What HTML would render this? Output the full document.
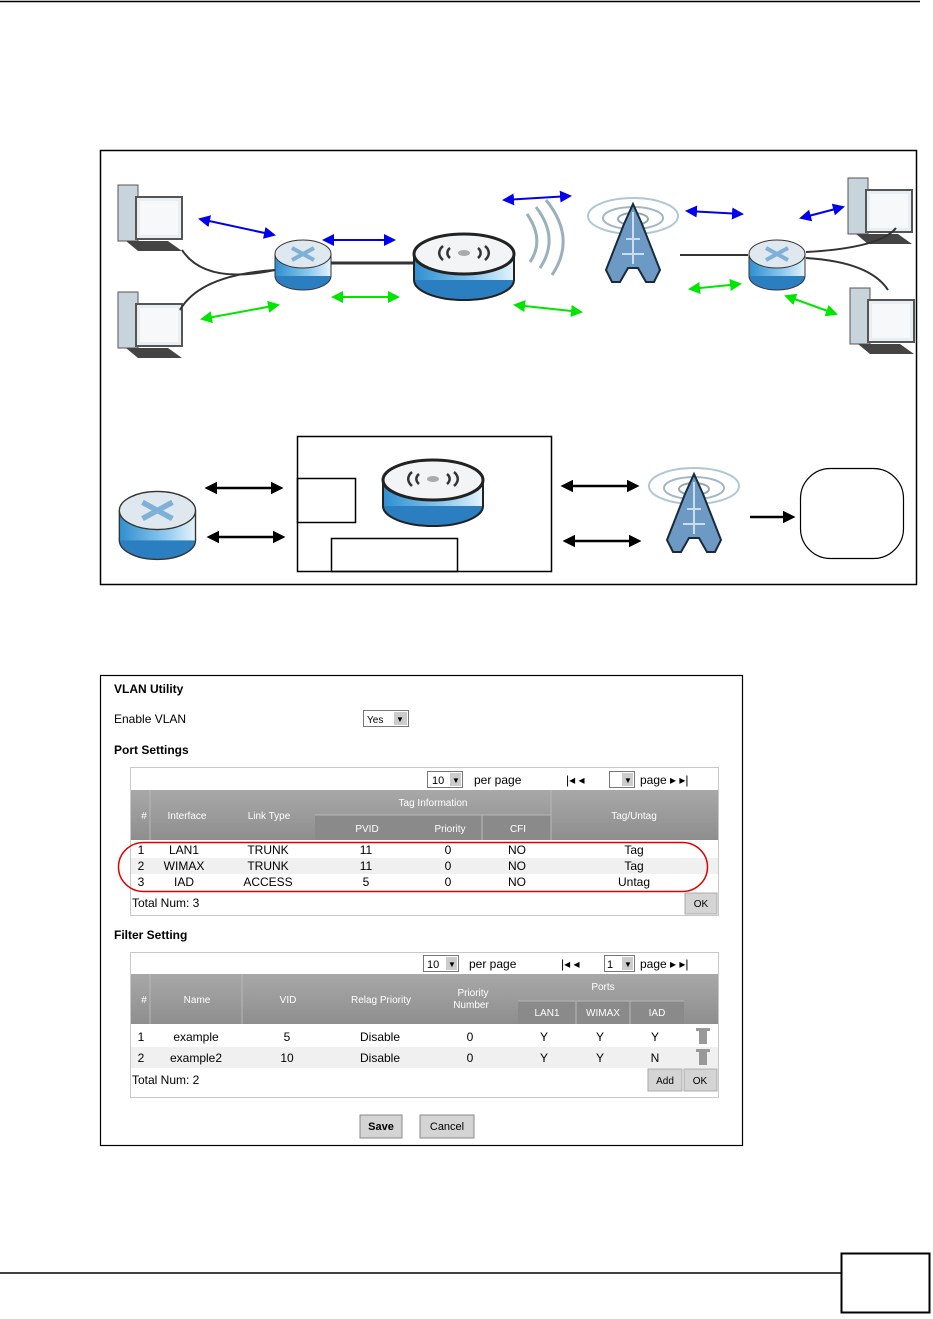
<!DOCTYPE html>
<html><head><meta charset="utf-8"><style>
body{margin:0;background:#fff;}
svg text{font-family:"Liberation Sans",sans-serif;}
</style></head><body>
<svg width="933" height="1314" viewBox="0 0 933 1314" xmlns="http://www.w3.org/2000/svg">
<defs>
<marker id="ab" markerWidth="6" markerHeight="6" refX="5" refY="3" orient="auto-start-reverse" markerUnits="strokeWidth"><path d="M0,0 L6,3 L0,6 z" fill="#0000ee"/></marker>
<marker id="ag" markerWidth="6" markerHeight="6" refX="5" refY="3" orient="auto-start-reverse" markerUnits="strokeWidth"><path d="M0,0 L6,3 L0,6 z" fill="#00e600"/></marker>
<marker id="ak" markerWidth="5" markerHeight="5" refX="4" refY="2.5" orient="auto-start-reverse" markerUnits="strokeWidth"><path d="M0,0 L5,2.5 L0,5 z" fill="#000"/></marker>
<linearGradient id="cyl" x1="0" x2="1"><stop offset="0" stop-color="#2f8fd0"/><stop offset="0.6" stop-color="#8cc8ee"/><stop offset="1" stop-color="#e6f4fc"/></linearGradient>
<linearGradient id="hdr" x1="0" y1="0" x2="0" y2="1"><stop offset="0" stop-color="#a8a8a8"/><stop offset="1" stop-color="#8e8e8e"/></linearGradient>
<g id="pc">
<rect x="0" y="0" width="20" height="56" fill="#c8d4dc" stroke="#555"/>
<rect x="18" y="12" width="46" height="42" fill="#e8eef2" stroke="#555" stroke-width="2"/>
<rect x="22" y="16" width="38" height="34" fill="#f6f8fa"/>
<path d="M8,56 L50,56 L64,66 L20,66 z" fill="#444"/>
</g>
<g id="router">
<ellipse cx="29" cy="40" rx="28" ry="14" fill="#2b7fc0" stroke="#333"/>
<rect x="1" y="18" width="56" height="22" fill="url(#cyl)"/>
<line x1="1" y1="18" x2="1" y2="40" stroke="#333"/><line x1="57" y1="18" x2="57" y2="40" stroke="#333"/>
<ellipse cx="29" cy="18" rx="28" ry="14" fill="#dfe8ee" stroke="#333"/>
<path d="M18,12 L40,24 M40,12 L18,24" stroke="#7fb0d8" stroke-width="4"/>
</g>
<g id="ap">
<ellipse cx="51" cy="48" rx="50" ry="20" fill="#2b7fc0" stroke="#222" stroke-width="2"/>
<rect x="1" y="22" width="100" height="26" fill="url(#cyl)"/>
<line x1="1" y1="22" x2="1" y2="48" stroke="#222" stroke-width="2"/><line x1="101" y1="22" x2="101" y2="48" stroke="#222" stroke-width="2"/>
<ellipse cx="51" cy="22" rx="50" ry="20" fill="#f2f4f6" stroke="#222" stroke-width="3"/>
<path d="M30,28 A20,12 0 0 1 30,14 M72,14 A20,12 0 0 1 72,28 M37,26 A12,8 0 0 1 37,16 M65,16 A12,8 0 0 1 65,26" stroke="#333" stroke-width="2.5" fill="none"/>
<ellipse cx="51" cy="21" rx="6" ry="3" fill="#aaa"/>
</g>
<g id="tower">
<ellipse cx="47" cy="22" rx="45" ry="18" fill="none" stroke="#b0c8d4" stroke-width="2"/>
<ellipse cx="47" cy="24" rx="30" ry="11" fill="none" stroke="#a0b8c4" stroke-width="2"/>
<ellipse cx="47" cy="25" rx="15" ry="6" fill="none" stroke="#90a8b4" stroke-width="2"/>
<path d="M47,10 L56,30 L74,76 L68,88 L60,88 L52,74 L42,74 L34,88 L26,88 L20,76 L38,30 z" fill="#6c9ac4" stroke="#1a2a3a" stroke-width="2"/>
<path d="M47,18 L47,70 M40,45 L54,45 M36,60 L58,60" stroke="#cde" stroke-width="2"/>
</g>
</defs>

<line x1="0" y1="1.5" x2="920" y2="1.5" stroke="#000" stroke-width="1.5"/>
<line x1="0" y1="1273" x2="841" y2="1273" stroke="#000" stroke-width="1.5"/>
<rect x="841.5" y="1253.5" width="88" height="59" fill="none" stroke="#000" stroke-width="2"/>

<rect x="100.5" y="150.5" width="816" height="434" fill="none" stroke="#000" stroke-width="1.5"/>
<use href="#pc" x="118" y="185"/>
<use href="#pc" x="118" y="292"/>
<use href="#pc" x="848" y="178"/>
<use href="#pc" x="850" y="288"/>
<path d="M182,250 Q205,285 275,270" stroke="#333" stroke-width="2" fill="none"/>
<path d="M180,310 Q200,275 275,270" stroke="#333" stroke-width="2" fill="none"/>
<line x1="330" y1="263" x2="414" y2="263" stroke="#333" stroke-width="3"/>
<use href="#router" x="274" y="236"/>
<use href="#ap" x="413" y="232"/>
<path d="M527,214 Q545,240 530,262 M536,207 Q560,238 540,268 M546,200 Q577,238 552,275" stroke="#9ab0bc" stroke-width="3" fill="none"/>
<use href="#tower" x="586" y="194"/>
<line x1="680" y1="255" x2="748" y2="255" stroke="#333" stroke-width="2"/>
<use href="#router" x="748" y="236"/>
<path d="M806,252 Q880,248 896,228" stroke="#333" stroke-width="2" fill="none"/>
<path d="M806,258 Q870,262 888,290" stroke="#333" stroke-width="2" fill="none"/>

<g stroke="#0000ee" stroke-width="2" marker-start="url(#ab)" marker-end="url(#ab)">
<line x1="200" y1="219" x2="274" y2="235"/>
<line x1="324" y1="240" x2="394" y2="240"/>
<line x1="504" y1="200" x2="570" y2="196"/>
<line x1="687" y1="211" x2="742" y2="214"/>
<line x1="801" y1="218" x2="843" y2="207"/>
</g>
<g stroke="#00e600" stroke-width="2" marker-start="url(#ag)" marker-end="url(#ag)">
<line x1="202" y1="319" x2="278" y2="305"/>
<line x1="333" y1="297" x2="398" y2="297"/>
<line x1="515" y1="305" x2="581" y2="312"/>
<line x1="690" y1="289" x2="740" y2="284"/>
<line x1="786" y1="296" x2="836" y2="314"/>
</g>

<use href="#router" x="118" y="486" transform="translate(118 486) scale(1.36) translate(-118 -486)"/>
<rect x="297.5" y="436.5" width="254" height="135" fill="none" stroke="#000" stroke-width="1.5"/>
<rect x="297.5" y="478.5" width="58" height="44" fill="none" stroke="#000" stroke-width="1.5"/>
<rect x="331.5" y="538.5" width="126" height="33" fill="none" stroke="#000" stroke-width="1.5"/>
<use href="#ap" x="382" y="458"/>
<use href="#tower" x="647" y="464"/>
<rect x="800.5" y="468.5" width="103" height="90" rx="30" fill="none" stroke="#000" stroke-width="1.2"/>
<g stroke="#000" stroke-width="2.5" marker-start="url(#ak)" marker-end="url(#ak)">
<line x1="207" y1="488" x2="281" y2="488"/>
<line x1="209" y1="537" x2="283" y2="537"/>
<line x1="563" y1="486" x2="637" y2="486"/>
<line x1="565" y1="541" x2="639" y2="541"/>
</g>
<line x1="750" y1="517" x2="793" y2="517" stroke="#000" stroke-width="2.5" marker-end="url(#ak)"/>

<rect x="100.5" y="675.5" width="642" height="470" fill="#fff" stroke="#000" stroke-width="1.2"/>
<g font-size="12" fill="#000">
<text x="114" y="693" font-weight="bold">VLAN Utility</text>
<text x="114" y="723">Enable VLAN</text>
<text x="114" y="754" font-weight="bold">Port Settings</text>
<text x="114" y="939" font-weight="bold">Filter Setting</text>
</g>
<rect x="363.5" y="710.5" width="45" height="16" fill="#fff" stroke="#777"/>
<text x="367" y="723" font-size="10">Yes</text>
<rect x="394" y="712" width="13" height="13" fill="#ccc"/><text x="396" y="722" font-size="8">▼</text>

<rect x="130.5" y="767.5" width="588" height="148" fill="#fff" stroke="#c8c8c8"/>
<rect x="427.5" y="771.5" width="35" height="16" fill="#fff" stroke="#777"/>
<text x="432" y="784" font-size="11">10</text><rect x="450" y="773" width="11" height="13" fill="#ccc"/><text x="452" y="783" font-size="8">▼</text>
<text x="474" y="784" font-size="12">per page</text>
<text x="566" y="784" font-size="12">|◂  ◂</text>
<rect x="609.5" y="771.5" width="25" height="16" fill="#fff" stroke="#777"/><rect x="622" y="773" width="11" height="13" fill="#ccc"/><text x="624" y="783" font-size="8">▼</text>
<text x="640" y="784" font-size="12">page ▸  ▸|</text>
<rect x="131" y="790" width="587" height="50" fill="url(#hdr)"/>
<rect x="315" y="815" width="236" height="25" fill="#8a8a8a"/>
<g stroke="#b8b8b8"><line x1="150" y1="790" x2="150" y2="840"/><line x1="551" y1="790" x2="551" y2="840"/><line x1="482" y1="815" x2="482" y2="840"/><line x1="315" y1="815" x2="551" y2="815"/></g>
<g font-size="10" fill="#fff" text-anchor="middle">
<text x="144" y="819">#</text><text x="187" y="819">Interface</text><text x="269" y="819">Link Type</text>
<text x="433" y="806">Tag Information</text><text x="634" y="819">Tag/Untag</text>
<text x="367" y="832">PVID</text><text x="450" y="832">Priority</text><text x="518" y="832">CFI</text>
</g>
<rect x="131" y="858" width="587" height="16" fill="#f0f0f0"/>
<g font-size="12" fill="#000" text-anchor="middle">
<text x="141" y="854">1</text><text x="184" y="854">LAN1</text><text x="268" y="854">TRUNK</text><text x="366" y="854">11</text><text x="448" y="854">0</text><text x="517" y="854">NO</text><text x="634" y="854">Tag</text>
<text x="141" y="870">2</text><text x="184" y="870">WIMAX</text><text x="268" y="870">TRUNK</text><text x="366" y="870">11</text><text x="448" y="870">0</text><text x="517" y="870">NO</text><text x="634" y="870">Tag</text>
<text x="141" y="886">3</text><text x="184" y="886">IAD</text><text x="268" y="886">ACCESS</text><text x="366" y="886">5</text><text x="448" y="886">0</text><text x="517" y="886">NO</text><text x="634" y="886">Untag</text>
</g>
<rect x="118.5" y="842.5" width="589" height="49" rx="25" fill="none" stroke="#e00000" stroke-width="1.5"/>
<text x="132" y="907" font-size="12">Total Num: 3</text>
<rect x="685" y="893" width="32" height="21" fill="#d4d4d4" stroke="#aaa"/><text x="701" y="907" font-size="10" text-anchor="middle">OK</text>

<rect x="130.5" y="952.5" width="588" height="145" fill="#fff" stroke="#c8c8c8"/>
<rect x="423.5" y="955.5" width="35" height="16" fill="#fff" stroke="#777"/>
<text x="427" y="968" font-size="11">10</text><rect x="446" y="957" width="11" height="13" fill="#ccc"/><text x="448" y="967" font-size="8">▼</text>
<text x="469" y="968" font-size="12">per page</text>
<text x="561" y="968" font-size="12">|◂  ◂</text>
<rect x="604.5" y="955.5" width="30" height="16" fill="#fff" stroke="#777"/><text x="607" y="968" font-size="11">1</text><rect x="622" y="957" width="11" height="13" fill="#ccc"/><text x="624" y="967" font-size="8">▼</text>
<text x="640" y="968" font-size="12">page ▸  ▸|</text>
<rect x="131" y="974" width="587" height="50" fill="url(#hdr)"/>
<rect x="518" y="1001" width="166" height="23" fill="#8a8a8a"/>
<g stroke="#b8b8b8"><line x1="150" y1="974" x2="150" y2="1024"/><line x1="242" y1="974" x2="242" y2="1024"/><line x1="518" y1="1001" x2="684" y2="1001"/><line x1="576" y1="1001" x2="576" y2="1024"/><line x1="630" y1="1001" x2="630" y2="1024"/></g>
<g font-size="10" fill="#fff" text-anchor="middle">
<text x="144" y="1003">#</text><text x="197" y="1003">Name</text><text x="288" y="1003">VID</text><text x="381" y="1003">Relag Priority</text>
<text x="473" y="996">Priority</text><text x="471" y="1008">Number</text><text x="603" y="990">Ports</text>
<text x="547" y="1016">LAN1</text><text x="603" y="1016">WIMAX</text><text x="657" y="1016">IAD</text>
</g>
<rect x="131" y="1047" width="587" height="21" fill="#f0f0f0"/>
<g font-size="12" fill="#000" text-anchor="middle">
<text x="141" y="1041">1</text><text x="196" y="1041">example</text><text x="287" y="1041">5</text><text x="380" y="1041">Disable</text><text x="470" y="1041">0</text><text x="544" y="1041">Y</text><text x="600" y="1041">Y</text><text x="655" y="1041">Y</text>
<text x="141" y="1062">2</text><text x="196" y="1062">example2</text><text x="287" y="1062">10</text><text x="380" y="1062">Disable</text><text x="470" y="1062">0</text><text x="544" y="1062">Y</text><text x="600" y="1062">Y</text><text x="655" y="1062">N</text>
</g>
<g fill="#999"><rect x="696" y="1028" width="14" height="3"/><rect x="699" y="1031" width="8" height="13"/><rect x="696" y="1049" width="14" height="3"/><rect x="699" y="1052" width="8" height="13"/></g>
<text x="132" y="1084" font-size="12">Total Num: 2</text>
<rect x="648" y="1069" width="34" height="22" fill="#d4d4d4" stroke="#aaa"/><text x="665" y="1084" font-size="10" text-anchor="middle">Add</text>
<rect x="684" y="1069" width="33" height="22" fill="#d4d4d4" stroke="#aaa"/><text x="700" y="1084" font-size="10" text-anchor="middle">OK</text>
<rect x="360" y="1115" width="42" height="23" fill="#d4d4d4" stroke="#888"/><text x="381" y="1130" font-size="11" text-anchor="middle" font-weight="bold">Save</text>
<rect x="420" y="1115" width="54" height="23" fill="#d4d4d4" stroke="#888"/><text x="447" y="1130" font-size="11" text-anchor="middle">Cancel</text>
</svg>
</body></html>
